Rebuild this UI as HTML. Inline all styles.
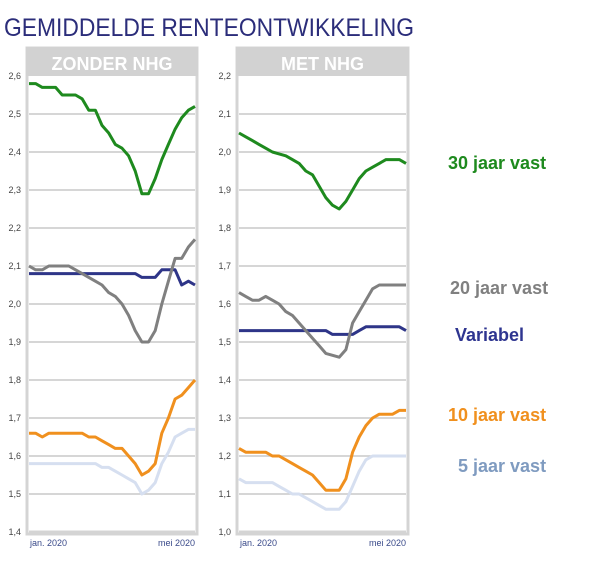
<!DOCTYPE html>
<html><head><meta charset="utf-8"><style>
body{margin:0;background:#fff;width:600px;height:568px;overflow:hidden;font-family:"Liberation Sans",sans-serif}
</style></head><body>
<svg id="c" width="600" height="568" xmlns="http://www.w3.org/2000/svg">
<text x="4" y="36" font-size="25" fill="#2b2d7a" textLength="410" lengthAdjust="spacingAndGlyphs">GEMIDDELDE RENTEONTWIKKELING</text>
<text x="448" y="169" font-size="18" font-weight="bold" fill="#1e8a1e">30 jaar vast</text>
<text x="450" y="294" font-size="18" font-weight="bold" fill="#808080">20 jaar vast</text>
<text x="455" y="341" font-size="18" font-weight="bold" fill="#2e3590">Variabel</text>
<text x="448" y="421" font-size="18" font-weight="bold" fill="#f0901e">10 jaar vast</text>
<text x="458" y="472" font-size="18" font-weight="bold" fill="#7f9bc0">5 jaar vast</text>
</svg>
<script>
const leftTicks=["2,6","2,5","2,4","2,3","2,2","2,1","2,0","1,9","1,8","1,7","1,6","1,5","1,4"];
const rightTicks=["2,2","2,1","2,0","1,9","1,8","1,7","1,6","1,5","1,4","1,3","1,2","1,1","1,0"];
const xLabels=["jan. 2020","mei 2020"];
const L30=[2.58,2.58,2.57,2.57,2.57,2.55,2.55,2.55,2.54,2.51,2.51,2.47,2.45,2.42,2.41,2.39,2.35,2.29,2.29,2.33,2.38,2.42,2.46,2.49,2.51,2.52];
const L20=[2.10,2.09,2.09,2.10,2.10,2.10,2.10,2.09,2.08,2.07,2.06,2.05,2.03,2.02,2.00,1.97,1.93,1.90,1.90,1.93,2.00,2.06,2.12,2.12,2.15,2.17];
const LVar=[2.08,2.08,2.08,2.08,2.08,2.08,2.08,2.08,2.08,2.08,2.08,2.08,2.08,2.08,2.08,2.08,2.08,2.07,2.07,2.07,2.09,2.09,2.09,2.05,2.06,2.05];
const L10=[1.66,1.66,1.65,1.66,1.66,1.66,1.66,1.66,1.66,1.65,1.65,1.64,1.63,1.62,1.62,1.60,1.58,1.55,1.56,1.58,1.66,1.70,1.75,1.76,1.78,1.80];
const L5=[1.58,1.58,1.58,1.58,1.58,1.58,1.58,1.58,1.58,1.58,1.58,1.57,1.57,1.56,1.55,1.54,1.53,1.50,1.51,1.53,1.58,1.61,1.65,1.66,1.67,1.67];
const R30=[2.05,2.04,2.03,2.02,2.01,2.00,1.995,1.99,1.98,1.97,1.95,1.94,1.91,1.88,1.86,1.85,1.87,1.90,1.93,1.95,1.96,1.97,1.98,1.98,1.98,1.97];
const R20=[1.63,1.62,1.61,1.61,1.62,1.61,1.60,1.58,1.57,1.55,1.53,1.51,1.49,1.47,1.465,1.46,1.48,1.55,1.58,1.61,1.64,1.65,1.65,1.65,1.65,1.65];
const RVar=[1.53,1.53,1.53,1.53,1.53,1.53,1.53,1.53,1.53,1.53,1.53,1.53,1.53,1.53,1.52,1.52,1.52,1.52,1.53,1.54,1.54,1.54,1.54,1.54,1.54,1.53];
const R10=[1.22,1.21,1.21,1.21,1.21,1.20,1.20,1.19,1.18,1.17,1.16,1.15,1.13,1.11,1.11,1.11,1.14,1.21,1.25,1.28,1.30,1.31,1.31,1.31,1.32,1.32];
const R5=[1.14,1.13,1.13,1.13,1.13,1.13,1.12,1.11,1.10,1.10,1.09,1.08,1.07,1.06,1.06,1.06,1.08,1.12,1.16,1.19,1.20,1.20,1.20,1.20,1.20,1.20];
const colors={c30:"#1e8a1e",c20:"#808080",cv:"#2e3588",c10:"#f0901e",c5:"#d6dff0"};
const svg=document.getElementById('c');
const NS="http://www.w3.org/2000/svg";
function mk(t,a,p){const e=document.createElementNS(NS,t);for(const k in a)e.setAttribute(k,a[k]);(p||svg).appendChild(e);return e;}
function panel(name,title,x0,x1,top,ticks,series){
  const g=mk('g',{});
  
  
  const yTop=76,yBot=532,max=parseFloat(ticks[0].replace(',','.')),min=parseFloat(ticks[ticks.length-1].replace(',','.'));
  const y=v=>yTop+(max-v)/(max-min)*(yBot-yTop);
  const fr=mk('rect',{x:x0-2,y:48,width:x1-x0+4,height:yBot-46,fill:'#fff',stroke:'#d4d4d4','stroke-width':3},g);
  
  
  const hd=mk('rect',{x:x0-3,y:47,width:x1-x0+6,height:29,fill:'#d2d2d2'},g);
  
  
  const ht=mk('text',{x:(x0+x1)/2,y:70,'text-anchor':'middle','font-size':18,'font-weight':'bold',fill:'#fff'},g);
  ht.textContent=title;
  
  
  ticks.forEach((t,i)=>{
    const v=parseFloat(t.replace(',','.'));const yy=y(v);
    if(i>0&&i<ticks.length-1){const gl=mk('line',{x1:x0,x2:x1,y1:yy,y2:yy,stroke:'#c8c8c8','stroke-width':1.5},g);
      }
    const tx=mk('text',{x:x0-8,y:yy+3,'text-anchor':'end','font-size':9,fill:'#444'},g);
    tx.textContent=t;
    
    
  });
  const ax=mk('line',{x1:x0,x2:x1,y1:yBot,y2:yBot,stroke:'#d4d4d4','stroke-width':3},g);
  
  const xl0=mk('text',{x:x0+1,y:546,'font-size':9,fill:'#3a4a8a'},g);xl0.textContent=xLabels[0];
  
  const xl1=mk('text',{x:x1,y:546,'text-anchor':'end','font-size':9,fill:'#3a4a8a'},g);xl1.textContent=xLabels[1];
  
  series.forEach(s=>{
    const n=s.d.length;
    const pts=s.d.map((v,i)=>(x0+i*(x1-x0)/(n-1)).toFixed(1)+','+y(v).toFixed(1)).join(' ');
    const pl=mk('polyline',{points:pts,fill:'none',stroke:s.c,'stroke-width':3,'stroke-linejoin':'round'},g);
    
    
  });
}
panel('panel-zonder-nhg','ZONDER NHG',29,195,76,leftTicks,[
 {n:'line-5-jaar-zonder',d:L5,c:colors.c5},{n:'line-10-jaar-zonder',d:L10,c:colors.c10},
 {n:'line-variabel-zonder',d:LVar,c:colors.cv},{n:'line-20-jaar-zonder',d:L20,c:colors.c20},
 {n:'line-30-jaar-zonder',d:L30,c:colors.c30}]);
panel('panel-met-nhg','MET NHG',239,406,76,rightTicks,[
 {n:'line-5-jaar-met',d:R5,c:colors.c5},{n:'line-10-jaar-met',d:R10,c:colors.c10},
 {n:'line-variabel-met',d:RVar,c:colors.cv},{n:'line-20-jaar-met',d:R20,c:colors.c20},
 {n:'line-30-jaar-met',d:R30,c:colors.c30}]);
</script>
</body></html>
